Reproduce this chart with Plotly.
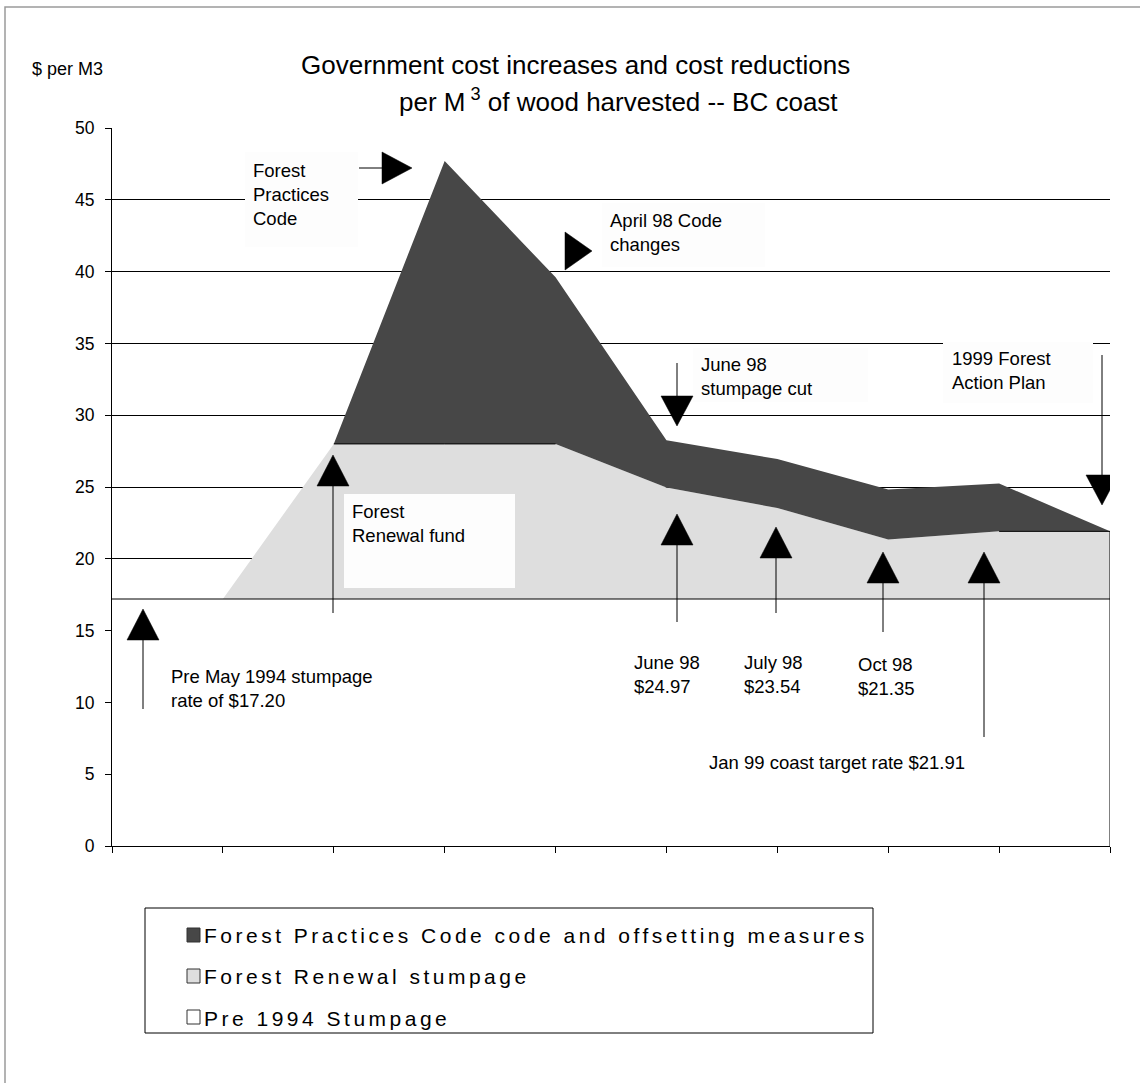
import plotly.graph_objects as go

# ---------------- data ----------------
periods = ["Pre May 1994", "May 1994", "1995", "1996", "April 98", "June 98",
           "July 98", "Oct 98", "Jan 99", "1999 FAP"]
x_idx = list(range(len(periods)))
pre_1994_stumpage = [17.2, 17.2, 17.2, 17.2, 17.2, 17.2, 17.2, 17.2, 17.2, 17.2]
forest_renewal = [0, 0, 10.8, 10.8, 10.8, 7.77, 6.34, 4.15, 4.71, 4.71]
fpc_code = [0, 0, 0, 19.7, 11.6, 3.28, 3.41, 3.48, 3.33, 0]
series_names = ["Pre 1994 Stumpage", "Forest Renewal stumpage",
                "Forest Practices Code code and offsetting measures"]
y_ticks = [0, 5, 10, 15, 20, 25, 30, 35, 40, 45, 50]

# ---------------- layout geometry (pixels) ----------------
W, H = 1140, 1083
L, R, T, B = 112, 1110, 128, 846
NX = len(periods) - 1
YMAX = 50
FONT = "Liberation Sans, Arial, Helvetica, sans-serif"
DARK, LIGHT, PREC = "#474747", "#dedede", "#ffffff"


def X(px):
    return (px - L) / (R - L) * NX


def Y(py):
    return (B - py) / (B - T) * YMAX


def PX(px):
    return (px - L) / (R - L)


def PY(py):
    return (B - py) / (B - T)


fig = go.Figure()
colors = [PREC, LIGHT, DARK]
for name, vals, col in zip(series_names, [pre_1994_stumpage, forest_renewal, fpc_code], colors):
    is_pre = name == series_names[0]
    fig.add_trace(go.Scatter(
        x=x_idx, y=vals, name=name, stackgroup="one", mode="lines",
        fillcolor=col,
        line=dict(color="black" if is_pre else col, width=1 if is_pre else 0),
        showlegend=False, hoverinfo="skip",
    ))

shapes = []
annotations = []

# outline segments along flat parts of the Forest Renewal top and right edge
renew_top = [p + r for p, r in zip(pre_1994_stumpage, forest_renewal)]
total_top = [p + r + c for p, r, c in zip(pre_1994_stumpage, forest_renewal, fpc_code)]
for i in range(NX):
    if forest_renewal[i] > 0 and renew_top[i] == renew_top[i + 1]:
        shapes.append(dict(type="line", xref="x", yref="y", x0=i, x1=i + 1,
                           y0=renew_top[i], y1=renew_top[i + 1],
                           line=dict(color="black", width=1)))
shapes.append(dict(type="line", xref="x", yref="y", x0=NX, x1=NX, y0=0, y1=total_top[-1],
                   line=dict(color="black", width=1)))

# white text boxes (pixel rectangles)
boxes = [(245, 152, 358, 247), (602, 203, 765, 267), (693, 348, 868, 402),
         (943, 342, 1093, 403), (344, 494, 515, 588)]
for x0, y0, x1, y1 in boxes:
    shapes.append(dict(type="rect", xref="x", yref="y", x0=X(x0), x1=X(x1), y0=Y(y0), y1=Y(y1),
                       fillcolor="#fdfdfd", line=dict(width=0), layer="above"))


def tri(pts):
    p = " L ".join(f"{X(a):.4f},{Y(b):.4f}" for a, b in pts)
    return dict(type="path", xref="x", yref="y", path="M " + p + " Z",
                fillcolor="black", line=dict(color="black", width=0.5), layer="above")


def seg(x0, y0, x1, y1):
    return dict(type="line", xref="x", yref="y", x0=X(x0), y0=Y(y0), x1=X(x1), y1=Y(y1),
                line=dict(color="black", width=1), layer="above")


# right arrows
shapes.append(seg(359, 168, 382, 168))
shapes.append(tri([(382, 152), (382, 184), (412, 168)]))
shapes.append(tri([(565, 232), (565, 270), (592, 251)]))
# down arrows
shapes.append(seg(677, 363, 677, 396))
shapes.append(tri([(661, 396), (693, 396), (677, 426)]))
shapes.append(seg(1102, 355, 1102, 475))
shapes.append(tri([(1086, 475), (1118, 475), (1102, 505)]))
# up arrows: (x, tip y, base y, line bottom)
ups = [(143, 609, 640, 709), (333, 455, 486, 613), (677, 514, 545, 622),
       (776, 527, 558, 613), (883, 552, 583, 632), (984, 552, 583, 737)]
for ax_, tip, base, bot in ups:
    shapes.append(seg(ax_, base, ax_, bot))
    shapes.append(tri([(ax_ - 16, base), (ax_ + 16, base), (ax_, tip)]))


def txt(text, px, py, size=18.5, xanchor="left", color="black"):
    annotations.append(dict(text=text, xref="paper", yref="paper", x=PX(px), y=PY(py),
                            xanchor=xanchor, yanchor="middle", align="left", showarrow=False,
                            font=dict(family=FONT, size=size, color=color)))


# annotation texts
txt("Forest<br>Practices<br>Code", 251, 194)
txt("April 98 Code<br>changes", 608, 232)
txt("June 98<br>stumpage cut", 699, 376)
txt("1999 Forest<br>Action Plan", 950, 370)
txt("Forest<br>Renewal fund", 350, 523)
txt("Pre May 1994 stumpage<br>rate of $17.20", 169, 688)
txt("June 98<br>$24.97", 632, 674)
txt("July 98<br>$23.54", 742, 674)
txt("Oct 98<br>$21.35", 856, 676)
txt("Jan 99 coast target rate $21.91", 707, 762)

# title and axis unit
txt("Government cost increases and cost reductions", 575, 65, size=26, xanchor="center")
txt("per M<sup> 3</sup> of wood harvested -- BC coast", 618, 101, size=26, xanchor="center")
txt("$ per M3", 30, 69, size=18)

# legend (drawn manually)
shapes.append(dict(type="rect", xref="paper", yref="paper", x0=PX(145), x1=PX(873),
                   y0=PY(908), y1=PY(1033), fillcolor="white",
                   line=dict(color="black", width=1)))
leg_rows = [(series_names[2], DARK, 935), (series_names[1], LIGHT, 976), (series_names[0], PREC, 1017)]
for name, col, cy in leg_rows:
    shapes.append(dict(type="rect", xref="paper", yref="paper", x0=PX(187), x1=PX(200),
                       y0=PY(cy - 7), y1=PY(cy + 7), fillcolor=col,
                       line=dict(color="#333333", width=1)))
    txt(f'<span style="letter-spacing:3.5px">{name}</span>', 202, cy + 1, size=21)

# outer border
shapes.append(dict(type="rect", xref="paper", yref="paper", x0=PX(5), x1=PX(1160),
                   y0=PY(1110), y1=PY(7), fillcolor="rgba(0,0,0,0)",
                   line=dict(color="#9a9a9a", width=1.5), layer="below"))

fig.update_layout(
    width=W, height=H,
    margin=dict(l=L, r=W - R, t=T, b=H - B, pad=0),
    paper_bgcolor="white", plot_bgcolor="white",
    font=dict(family=FONT, color="black"),
    showlegend=False,
    shapes=shapes, annotations=annotations,
    xaxis=dict(range=[0, NX], tickmode="array", tickvals=x_idx, showticklabels=False,
               ticks="outside", ticklen=6, tickcolor="black", showgrid=False,
               showline=True, linecolor="black", linewidth=1, zeroline=False, fixedrange=True),
    yaxis=dict(range=[0, YMAX], tickmode="array", tickvals=y_ticks,
               ticks="outside", ticklen=6, tickcolor="black", showgrid=True,
               gridcolor="black", gridwidth=1, showline=True, linecolor="black", linewidth=1,
               zeroline=False, tickfont=dict(size=17.5, family=FONT), ticklabelstandoff=7,
               fixedrange=True),
)

fig.write_html("out.html")
